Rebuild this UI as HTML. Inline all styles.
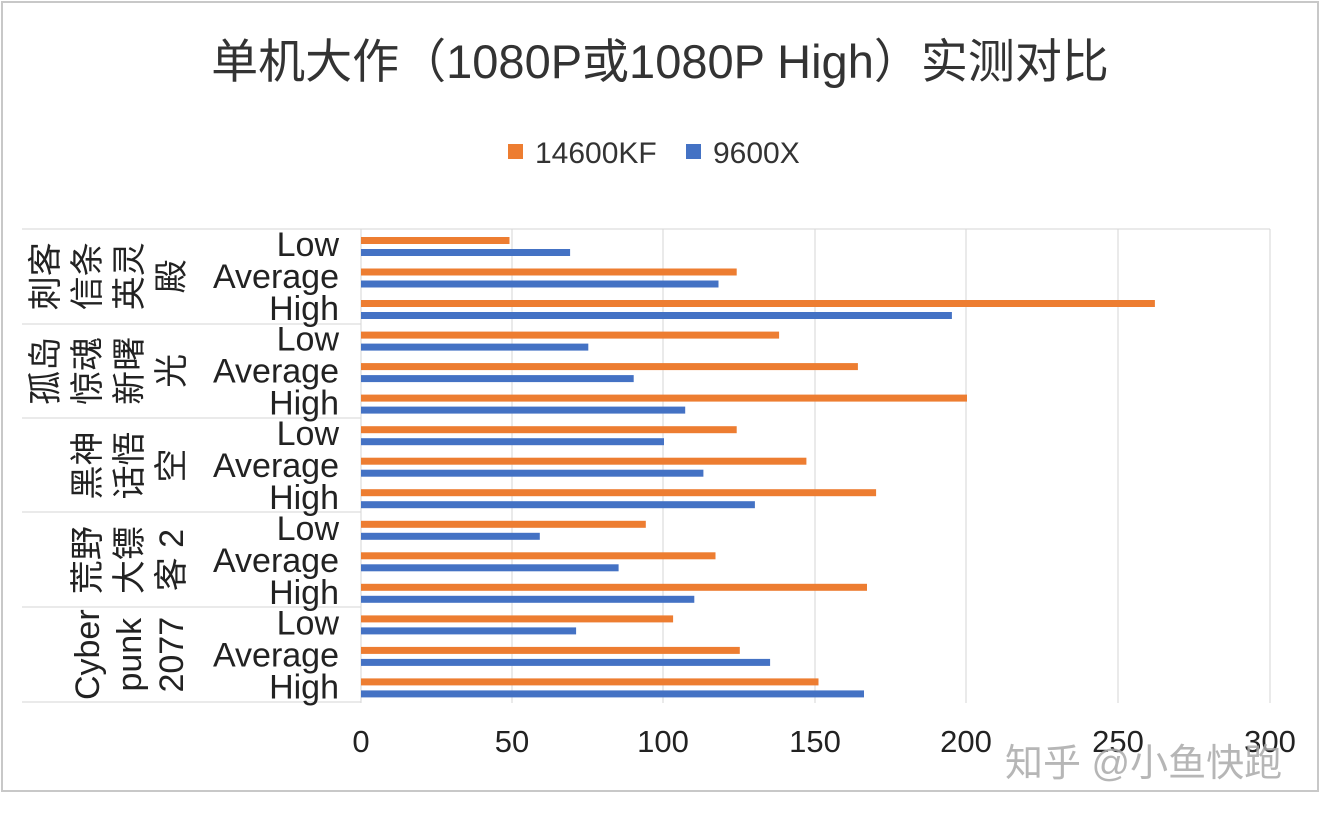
<!DOCTYPE html>
<html><head><meta charset="utf-8"><style>
body{margin:0;background:#fff;}
svg{display:block;font-family:"Liberation Sans","Noto Sans CJK SC",sans-serif;}
</style></head><body>
<svg width="1320" height="816" viewBox="0 0 1320 816">
<rect x="0" y="0" width="1320" height="816" fill="#fff"/>
<rect x="2" y="2" width="1316" height="789" fill="#fff" stroke="#c8c8c8" stroke-width="2"/>
<text x="660" y="78" font-size="47" text-anchor="middle" fill="#333">单机大作（1080P或1080P High）实测对比</text>
<rect x="508" y="144" width="15" height="15" fill="#ED7D31"/>
<text x="535" y="163" font-size="30" fill="#333">14600KF</text>
<rect x="686" y="144" width="15" height="15" fill="#4472C4"/>
<text x="713" y="163" font-size="30" fill="#333">9600X</text>
<g stroke="#d6d6d6" stroke-width="1">
<line x1="512" y1="229" x2="512" y2="703"/><line x1="663" y1="229" x2="663" y2="703"/>
<line x1="815" y1="229" x2="815" y2="703"/><line x1="966" y1="229" x2="966" y2="703"/>
<line x1="1118" y1="229" x2="1118" y2="703"/><line x1="1270" y1="229" x2="1270" y2="703"/>
<line x1="361" y1="229" x2="1270" y2="229"/>
<line x1="22" y1="229" x2="361" y2="229"/><line x1="22" y1="324" x2="361" y2="324"/>
<line x1="22" y1="418" x2="361" y2="418"/><line x1="22" y1="512" x2="361" y2="512"/>
<line x1="22" y1="607" x2="361" y2="607"/><line x1="22" y1="702" x2="361" y2="702"/>
<line x1="361" y1="229" x2="361" y2="703"/>
</g>
<g fill="#ED7D31">
<rect x="361" y="237" width="148.5" height="7"/><rect x="361" y="268.5" width="375.7" height="7"/><rect x="361" y="300" width="793.9" height="7"/>
<rect x="361" y="331.6" width="418.1" height="7"/><rect x="361" y="363.1" width="496.9" height="7"/><rect x="361" y="394.6" width="606" height="7"/>
<rect x="361" y="426.2" width="375.7" height="7"/><rect x="361" y="457.7" width="445.4" height="7"/><rect x="361" y="489.2" width="515.1" height="7"/>
<rect x="361" y="520.8" width="284.8" height="7"/><rect x="361" y="552.3" width="354.5" height="7"/><rect x="361" y="583.8" width="506" height="7"/>
<rect x="361" y="615.4" width="312.1" height="7"/><rect x="361" y="646.9" width="378.8" height="7"/><rect x="361" y="678.4" width="457.5" height="7"/>
</g>
<g fill="#4472C4">
<rect x="361" y="249" width="209.1" height="7"/><rect x="361" y="280.5" width="357.5" height="7"/><rect x="361" y="312" width="590.9" height="7"/>
<rect x="361" y="343.6" width="227.3" height="7"/><rect x="361" y="375.1" width="272.7" height="7"/><rect x="361" y="406.6" width="324.2" height="7"/>
<rect x="361" y="438.2" width="303" height="7"/><rect x="361" y="469.7" width="342.4" height="7"/><rect x="361" y="501.2" width="393.9" height="7"/>
<rect x="361" y="532.8" width="178.8" height="7"/><rect x="361" y="564.3" width="257.6" height="7"/><rect x="361" y="595.8" width="333.3" height="7"/>
<rect x="361" y="627.4" width="215.1" height="7"/><rect x="361" y="658.9" width="409.1" height="7"/><rect x="361" y="690.4" width="503" height="7"/>
</g>
<g font-size="34" fill="#222" text-anchor="end">
<text x="339" y="256">Low</text><text x="339" y="288">Average</text><text x="339" y="320">High</text>
<text x="339" y="350.6">Low</text><text x="339" y="382.6">Average</text><text x="339" y="414.6">High</text>
<text x="339" y="445.2">Low</text><text x="339" y="477.2">Average</text><text x="339" y="509.2">High</text>
<text x="339" y="539.8">Low</text><text x="339" y="571.8">Average</text><text x="339" y="603.8">High</text>
<text x="339" y="634.4">Low</text><text x="339" y="666.4">Average</text><text x="339" y="698.4">High</text>
</g>
<g font-size="31" fill="#222" text-anchor="middle">
<text x="361" y="752">0</text><text x="512" y="752">50</text><text x="663" y="752">100</text>
<text x="815" y="752">150</text><text x="966" y="752">200</text><text x="1118" y="752">250</text><text x="1270" y="752">300</text>
</g>
<g font-size="34" fill="#222" text-anchor="middle">
<text transform="translate(57,276.3) rotate(-90)">刺客</text>
<text transform="translate(99,276.3) rotate(-90)">信条</text>
<text transform="translate(141,276.3) rotate(-90)">英灵</text>
<text transform="translate(183,276.3) rotate(-90)">殿</text>
<text transform="translate(57,370.9) rotate(-90)">孤岛</text>
<text transform="translate(99,370.9) rotate(-90)">惊魂</text>
<text transform="translate(141,370.9) rotate(-90)">新曙</text>
<text transform="translate(183,370.9) rotate(-90)">光</text>
<text transform="translate(99,465.5) rotate(-90)">黑神</text>
<text transform="translate(141,465.5) rotate(-90)">话悟</text>
<text transform="translate(183,465.5) rotate(-90)">空</text>
<text transform="translate(99,560.1) rotate(-90)">荒野</text>
<text transform="translate(141,560.1) rotate(-90)">大镖</text>
<text transform="translate(183,560.1) rotate(-90)">客 2</text>
<text transform="translate(99,654.7) rotate(-90)">Cyber</text>
<text transform="translate(141,654.7) rotate(-90)">punk</text>
<text transform="translate(183,654.7) rotate(-90)">2077</text>
</g>
<text x="1005" y="776" font-size="38" fill="#aaa" opacity="0.85">知乎 @小鱼快跑</text>
</svg>
</body></html>
